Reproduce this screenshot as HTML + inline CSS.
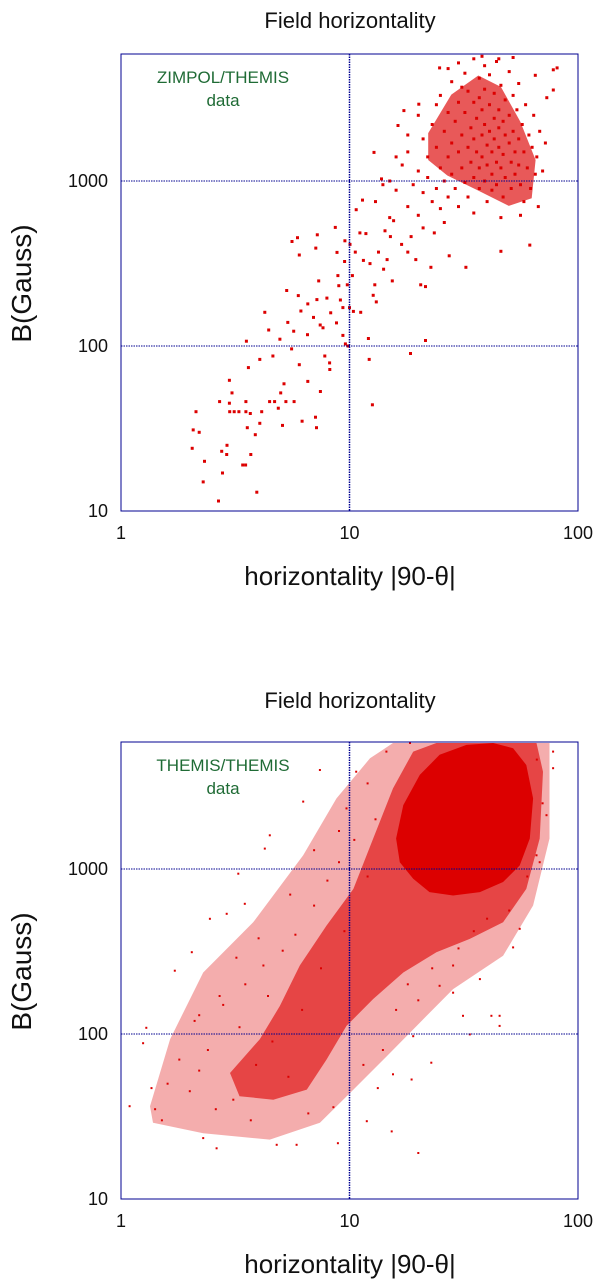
<!DOCTYPE html>
<html><head><meta charset="utf-8">
<style>
html,body{margin:0;padding:0;background:#fff;}
svg{display:block;font-family:"Liberation Sans",Arial,sans-serif;}
</style></head>
<body>
<svg id="fig" width="600" height="1285" viewBox="0 0 600 1285"></svg>
<script>
// ---------- data ----------
const xTicks = [1, 10, 100];
const yTicks = [10, 100, 1000];
const xTickLabels = ["1", "10", "100"];
const yTickLabels = ["10", "100", "1000"];

const zimpolPoints = [
[2.13,40],[2.07,31],[2.2,30],[2.05,24],[2.32,20],[2.29,15],[2.67,11.5],[2.7,46],[2.76,23],[2.78,17],[2.91,25],[2.9,22],[2.98,62],[2.98,45],[3.06,52],[2.99,40],[3.13,40],[3.28,40],[3.41,19],[3.51,19],[3.52,46],[3.52,40],[3.57,32],[3.61,74],[3.68,39],[3.7,22],[3.54,107],[3.87,29],[3.93,13],[4.05,83],[4.05,34],[4.13,40],[4.26,160],[4.47,46],[4.43,125],[4.62,87],[4.7,46],[4.88,42],[4.96,110],[5.0,52],[5.09,33],[5.17,59],[5.27,46],[5.31,217],[5.37,139],[5.58,96],[5.6,430],[5.72,46],[5.7,123],[5.92,453],[5.97,202],[6.03,356],[6.03,77],[6.13,163],[6.2,35],[6.57,180],[6.57,61],[6.55,117],[6.96,149],[7.1,37],[7.17,32],[7.23,472],[7.12,392],[7.33,248],[7.2,191],[7.44,134],[7.46,53],[7.66,129],[7.8,87],[7.96,195],[8.18,79],[8.2,72],[8.27,159],[8.67,523],[8.77,138],[8.82,369],[8.9,267],[8.98,232],[9.12,190],[9.36,171],[9.36,116],[9.55,434],[9.52,325],[9.78,235],[9.6,103],[9.85,100],[10.05,413],[10.0,171],[10.3,267],[10.4,162],[10.6,371],[10.7,670],[11.1,485],[11.2,160],[11.4,766],[11.5,330],[11.8,480],[12.1,111],[12.2,83],[12.3,316],[12.6,44],[12.7,203],[12.9,235],[12.8,1490],[13.1,185],[13.4,371],[13.8,1030],[14.1,292],[14.3,499],[14.6,334],[15.1,460],[15.6,575],[15.4,248],[16.3,2170],[16.9,413],[17.3,2670],[18.0,371],[18.5,90],[18.6,460],[19.5,334],[20.1,2920],[20.5,235],[21.5,108],[21.5,229],[22.7,300],[23.5,485],[24.8,4850],[27.3,352],[32.3,300],[46,375],[61.5,409],[65,4370],[78,4720],[81,4850],[78,3560],[73,3200],
[15,1000],[16,880],[17,1250],[18,700],[18,1500],[19,950],[20,1150],[20,620],[21,1800],[21,850],[22,1050],[22,1400],[23,2200],[23,750],[24,900],[24,1600],[25,3300],[25,1200],[25,680],[26,2000],[26,1000],[27,2600],[27,1400],[27,800],[28,4000],[28,1700],[28,1100],[29,2300],[29,900],[30,5200],[30,3000],[30,1500],[30,700],[31,1900],[31,1200],[32,4500],[32,2600],[32,980],[33,3500],[33,1600],[33,800],[34,2100],[34,1300],[35,5500],[35,3000],[35,1800],[35,1050],[35,640],[36,2400],[36,1500],[37,4200],[37,3200],[37,1200],[37,900],[38,2700],[38,1900],[38,1400],[39,5000],[39,3600],[39,2200],[39,1000],[40,1650],[40,1250],[40,750],[41,4400],[41,2900],[41,2000],[42,1500],[42,1100],[42,880],[43,3400],[43,2400],[43,1800],[44,5300],[44,1300],[44,950],[45,2700],[45,2100],[45,1600],[46,3800],[46,1200],[47,2300],[47,1450],[47,800],[48,3100],[48,1900],[48,1050],[50,4600],[50,2500],[50,1700],[51,1300],[51,900],[52,3300],[52,2000],[53,1500],[53,1100],[54,2700],[55,3900],[55,1800],[55,1250],[56,950],[57,2200],[58,1500],[58,750],[59,2900],[60,1200],[61,1900],[62,900],[63,1600],[64,2500],[65,1100],[66,1400],[67,700],[68,2000],[70,1150],[72,1700],[24,2900],[20,2500],[18,1900],[16,1400],[14,950],[13,750],[15,600],[21,520],[26,560],[46,600],[56,620],[45,5500],[52,5600],[38,5700],[31,3700],[27,4800]
];
// densest part of the ZIMPOL cloud (outline in data units)
const zimpolCore = [[22.1,1950],[27.9,3340],[36.6,4360],[46,3720],[55.9,2290],[65.2,1340],[62.7,785],[49.8,706],[36.6,875],[26.8,1080],[22.1,1340]];

// THEMIS/THEMIS cloud: density outlines (data units) + individual points
const themisOuter = [[1.34,36.5],[1.64,93],[2.29,236],[3.79,475],[6.27,1210],[8.77,2680],[12.3,4690],[15.5,5800],[75,5800],[75,1530],[63.6,601],[47,298],[28.4,187],[20.3,117],[14.5,73],[10.4,46],[7.42,29],[4.48,22.9],[2.29,25],[1.38,29]];
const themisMid = [[3.0,58],[4.05,93],[4.96,148],[6.06,260],[7.93,454],[10.4,758],[12.7,1530],[15.5,3080],[19.0,5150],[24,5800],[65.8,5800],[70.3,3890],[68,1530],[59.4,758],[47,475],[33.6,377],[24,313],[17.2,236],[12.7,163],[9.7,112],[7.93,70],[6.5,46],[4.64,40],[3.3,42]];
const themisCore = [[16.0,1530],[17.2,2440],[20.3,3720],[24.8,4920],[32.5,5650],[42.5,5800],[52,5400],[59.4,4270],[63.6,2680],[61.5,1530],[55.6,1050],[47,834],[37.2,724],[28.4,691],[22.4,724],[19.0,873],[16.6,1100]];
const themisPoints = [
[1.09,36.5],[1.29,109],[1.25,88],[1.72,242],[1.36,47],[1.51,30],[1.41,35],[2.04,313],[2.45,499],[2.9,535],[3.48,615],[4.26,1330],[4.48,1600],[3.26,937],[6.27,2560],[7.42,3980],[9.7,2330],[10.7,3890],[14.5,5150],[18.4,5800],[77.8,5150],[77.8,4080],[72.8,2120],[65.8,1210],[45.4,129],[45.4,112],[31.4,129],[55.6,434],[52,335],[28.4,260],[22.8,67],[18.7,53],[15.5,57],[13.3,47],[15.3,25.7],[20,19],[11.9,29.6],[8.9,21.8],[5.87,21.3],[4.8,21.3],[2.62,20.3],[2.29,23.4],[19,97],[33.6,99.5],[41.8,129],[28.4,178],[24.8,196],[37.2,215],
[1.6,50],[1.8,70],[2.0,45],[2.2,60],[2.1,120],[2.4,80],[2.6,35],[2.8,150],[3.1,40],[3.3,110],[3.5,200],[3.7,30],[3.9,65],[4.2,260],[4.4,170],[4.6,90],[5.1,320],[5.4,55],[5.8,400],[6.2,140],[6.6,33],[7.0,600],[7.5,250],[8.0,850],[8.5,36],[9.0,1100],[9.5,420],[10.5,1500],[11.5,65],[12,900],[13,2000],[14,80],[16,140],[18,200],[20,160],[23,250],[26,2600],[30,330],[35,420],[40,500],[50,560],[60,900],[68,1100],[70,2500],[66,4600],[12,3300],[9,1700],[7,1300],[5.5,700],[4,380],[3.2,290],[2.7,170],[2.2,130]
];

// ---------- drawing ----------
const NS = "http://www.w3.org/2000/svg";
const svg = document.getElementById("fig");
const X0 = 121, X1 = 578, DEC_X = (X1 - X0) / 2, DEC_Y = 165;
function xScale(h){ return X0 + Math.log10(h) * DEC_X; }
function makeY(bottom){ return function(b){ return bottom - (Math.log10(b) - 1) * DEC_Y; }; }
function mk(tag, attrs, parent){
  const e = document.createElementNS(NS, tag);
  for (const k in attrs) e.setAttribute(k, attrs[k]);
  (parent || svg).appendChild(e);
  return e;
}
const RED = "#dc0000", NAVY = "#000090";

function drawPanel(top, bottom, title, legend, name, layers, points, size){
  const yScale = makeY(bottom);
  const g = mk("g", {});
  
  
  const clipId = name + "-clip";
  const cp = mk("clipPath", {id: clipId}, g);
  mk("rect", {x: X0, y: top, width: X1 - X0, height: bottom - top}, cp);
  const t = mk("text", {x: 350, y: top - 34 + (name === "panel-top" ? 8 : 0), "text-anchor": "middle", "font-size": 22, fill: "#111"}, g);
  t.textContent = title;
  
  
  const data = mk("g", {"clip-path": "url(#" + clipId + ")"}, g);
  
  
  layers.forEach(function(L){
    const p = mk("polygon", {points: L.pts.map(d => xScale(d[0]).toFixed(1) + "," + yScale(d[1]).toFixed(1)).join(" "), fill: RED, "fill-opacity": L.op}, data);
    
    
  });
  points.forEach(function(d){
    const r = mk("rect", {x: (xScale(d[0]) - size/2).toFixed(1), y: (yScale(d[1]) - size/2).toFixed(1), width: size, height: size, fill: RED}, data);
    
    
  });
  // grid
  const gv = mk("line", {x1: xScale(10), x2: xScale(10), y1: top, y2: bottom, stroke: NAVY, "stroke-width": 1.5, "stroke-dasharray": "1.5,1"}, g);
  
  
  [100, 1000].forEach(function(v){
    const gl = mk("line", {x1: X0, x2: X1, y1: yScale(v), y2: yScale(v), stroke: NAVY, "stroke-width": 1, "stroke-dasharray": "1.5,1"}, g);
    
    
  });
  const box = mk("rect", {x: X0, y: top, width: X1 - X0, height: bottom - top, fill: "none", stroke: NAVY, "stroke-width": 1}, g);
  
  
  xTicks.forEach(function(v, i){
    const tx = mk("text", {x: xScale(v), y: bottom + 28, "text-anchor": "middle", "font-size": 18, fill: "#111"}, g);
    tx.textContent = xTickLabels[i];
    
    
  });
  yTicks.forEach(function(v, i){
    const ty = mk("text", {x: 108, y: yScale(v) + 6, "text-anchor": "end", "font-size": 18, fill: "#111"}, g);
    ty.textContent = yTickLabels[i];
    
    
  });
  const xt = mk("text", {x: 350, y: bottom + 74, "text-anchor": "middle", "font-size": 26, fill: "#111"}, g);
  xt.textContent = "horizontality |90-\u03B8|";
  
  
  const cy = (top + bottom) / 2 + 1;
  const yt = mk("text", {x: 31, y: cy, "text-anchor": "middle", "font-size": 28, fill: "#111", transform: "rotate(-90 31 " + cy + ")"}, g);
  yt.textContent = "B(Gauss)";
  
  
  const l1 = mk("text", {x: 223, y: top + 29, "text-anchor": "middle", "font-size": 17, fill: "#1f6b35"}, g);
  l1.textContent = legend;
  
  
  const l2 = mk("text", {x: 223, y: top + 52, "text-anchor": "middle", "font-size": 17, fill: "#1f6b35"}, g);
  l2.textContent = "data";
  
  
}

drawPanel(54, 511, "Field horizontality", "ZIMPOL/THEMIS", "panel-top",
  [{pts: zimpolCore, op: 0.65}], zimpolPoints, 3);
drawPanel(742, 1199, "Field horizontality", "THEMIS/THEMIS", "panel-bottom",
  [{pts: themisOuter, op: 0.32}, {pts: themisMid, op: 0.6}, {pts: themisCore, op: 1}], themisPoints, 2);
</script>
</body></html>
